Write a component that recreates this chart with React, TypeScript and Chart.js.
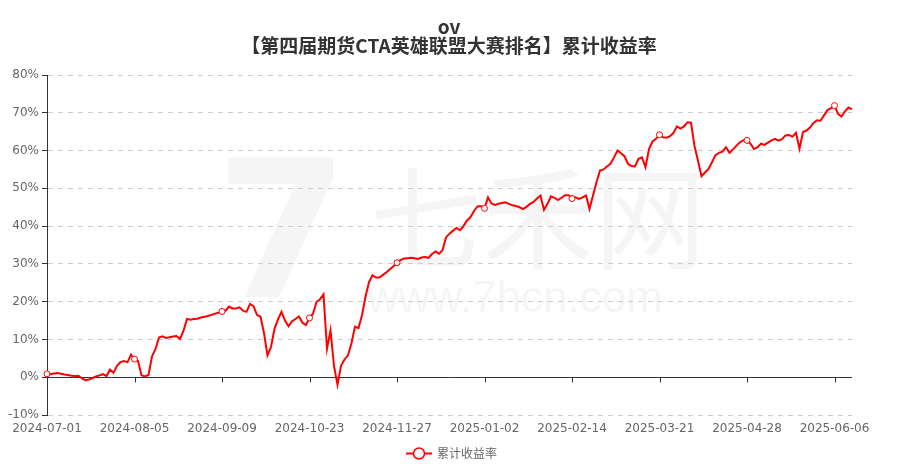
import React, { useEffect, useRef } from 'react';
import { Chart, registerables } from 'chart.js';

Chart.register(...registerables);

const TITLE_LINE1 = 'ov';
const TITLE_LINE2 = '【第四届期货CTA英雄联盟大赛排名】累计收益率';
const SERIES_NAME = '累计收益率';

// x-axis tick labels, one every TICK_STEP trading days
const tickLabels = [
  '2024-07-01', '2024-08-05', '2024-09-09', '2024-10-23', '2024-11-27',
  '2025-01-02', '2025-02-14', '2025-03-21', '2025-04-28', '2025-06-06',
];
const TICK_STEP = 25;

const Y_MIN = -10;
const Y_MAX = 80;
const Y_STEP = 10;

// cumulative return (%) per trading day
const returns = [
  0.9, 0.8, 1.0, 1.1, 0.9, 0.7, 0.6, 0.4, 0.3, 0.4,
  -0.3, -0.8, -0.6, -0.2, 0.2, 0.5, 0.8, 0.3, 2.0, 1.2,
  3.0, 4.0, 4.3, 4.0, 6.0, 4.8, 4.3, 0.5, 0.2, 0.6,
  5.5, 7.5, 10.5, 10.8, 10.4, 10.6, 10.8, 10.9, 10.1, 12.3,
  15.4, 15.2, 15.4, 15.5, 15.8, 16.0, 16.2, 16.5, 16.8, 17.1,
  17.4, 17.6, 18.7, 18.2, 18.2, 18.5, 17.6, 17.3, 19.4, 18.8,
  16.5, 16.0, 11.7, 5.8, 8.0, 12.8, 15.3, 17.3, 15.0, 13.5,
  14.8, 15.4, 16.1, 14.4, 13.8, 15.7, 16.8, 19.9, 20.6, 21.9,
  7.5, 12.4, 3.0, -2.0, 3.0, 4.7, 5.8, 9.0, 13.4, 13.0,
  16.4, 21.3, 25.2, 27.0, 26.4, 26.4, 27.1, 27.8, 28.6, 29.4,
  30.3, 31.0, 31.4, 31.5, 31.6, 31.5, 31.3, 31.7, 31.8, 31.6,
  32.6, 33.3, 32.7, 33.6, 37.0, 38.0, 38.8, 39.5, 38.9, 40.0,
  41.5, 42.4, 44.0, 45.2, 45.3, 44.7, 47.6, 46.0, 45.6, 45.9,
  46.1, 46.3, 45.9, 45.5, 45.3, 45.0, 44.5, 45.1, 45.9, 46.4,
  47.3, 48.1, 44.3, 45.9, 47.9, 47.5, 46.9, 47.5, 48.2, 48.2,
  47.3, 47.6, 47.2, 47.6, 48.1, 44.5, 48.1, 51.6, 54.7, 55.0,
  55.8, 56.5, 58.2, 60.0, 59.3, 58.5, 56.5, 55.9, 55.8, 57.8,
  58.2, 55.6, 60.4, 62.4, 63.1, 64.2, 63.5, 63.4, 63.8, 64.7,
  66.4, 65.8, 66.4, 67.5, 67.4, 61.2, 57.3, 53.2, 54.2, 55.1,
  56.9, 58.8, 59.4, 59.7, 60.9, 59.4, 60.3, 61.3, 62.2, 62.7,
  62.7, 61.8, 60.4, 60.9, 61.8, 61.5, 62.1, 62.7, 63.1, 62.6,
  63.0, 64.0, 64.1, 63.7, 64.7, 60.5, 64.9, 65.3, 66.1, 67.3,
  68.0, 67.9, 69.3, 70.7, 71.2, 71.9, 69.7, 69.0, 70.4, 71.4,
  70.9,
];

const categories = returns.map((_, i) =>
  i % TICK_STEP === 0 ? tickLabels[i / TICK_STEP] ?? '' : ''
);

const LINE_COLOR = '#ff0000';
const AXIS_COLOR = '#333333';
const GRID_COLOR = '#cccccc';
const LABEL_COLOR = '#666666';
const CJK_FONT = '"Noto Sans CJK SC", "DejaVu Sans", sans-serif';

const W = 898;
const H = 471;

const decorPlugin = {
  id: 'decor',
  beforeDraw(chart: any) {
    const { ctx } = chart;
    ctx.save();
    ctx.fillStyle = '#ffffff';
    ctx.fillRect(0, 0, chart.width, chart.height);
    // faint watermark
    ctx.fillStyle = 'rgba(0,0,0,0.04)';
    ctx.textAlign = 'center';
    ctx.textBaseline = 'middle';
    ctx.font = `bold 190px "DejaVu Sans", sans-serif`;
    ctx.fillText('7', 282, 248);
    ctx.font = `112px ${CJK_FONT}`;
    ctx.fillText('七禾网', 538, 218);
    ctx.font = `44px "Liberation Sans", sans-serif`;
    ctx.fillText('www.7hcn.com', 515, 300);
    ctx.restore();
  },
  beforeDatasetsDraw(chart: any) {
    const { ctx, chartArea, scales } = chart;
    const x = scales.x;
    const y = scales.y;
    const y0 = Math.round(y.getPixelForValue(0)) + 0.5;
    ctx.save();
    ctx.strokeStyle = AXIS_COLOR;
    ctx.lineWidth = 1;
    ctx.beginPath();
    ctx.moveTo(chartArea.left, y0);
    ctx.lineTo(chartArea.right, y0);
    x.ticks.forEach((_: any, i: number) => {
      if (i === 0) return;
      const px = Math.round(x.getPixelForTick(i)) + 0.5;
      ctx.moveTo(px, y0);
      ctx.lineTo(px, y0 + 5);
    });
    ctx.stroke();
    ctx.restore();
  },
  afterDraw(chart: any) {
    const { ctx } = chart;
    ctx.save();
    // title
    ctx.fillStyle = '#333333';
    ctx.textAlign = 'center';
    ctx.textBaseline = 'middle';
    ctx.font = `bold 19px ${CJK_FONT}`;
    ctx.fillText(TITLE_LINE1, W / 2, 27);
    ctx.fillText(TITLE_LINE2, W / 2, 46);
    // legend
    const ly = 453.5;
    ctx.strokeStyle = LINE_COLOR;
    ctx.lineWidth = 2;
    ctx.beginPath();
    ctx.moveTo(406, ly);
    ctx.lineTo(432, ly);
    ctx.stroke();
    ctx.beginPath();
    ctx.arc(419, ly, 5.5, 0, Math.PI * 2);
    ctx.fillStyle = '#ffffff';
    ctx.fill();
    ctx.lineWidth = 1.5;
    ctx.stroke();
    ctx.fillStyle = LABEL_COLOR;
    ctx.textAlign = 'left';
    ctx.font = `12px ${CJK_FONT}`;
    ctx.fillText(SERIES_NAME, 437, ly);
    ctx.restore();
  },
};

export default function App() {
  const canvasRef = useRef<HTMLCanvasElement | null>(null);

  useEffect(() => {
    const canvas = canvasRef.current;
    if (!canvas) return;
    const chart = new Chart(canvas, {
      type: 'line',
      data: {
        labels: categories,
        datasets: [
          {
            label: SERIES_NAME,
            data: returns,
            borderColor: LINE_COLOR,
            backgroundColor: LINE_COLOR,
            borderWidth: 2,
            tension: 0,
            pointRadius: (c: any) => (c.dataIndex % TICK_STEP === 0 ? 3 : 0),
            pointBackgroundColor: '#ffffff',
            pointBorderColor: LINE_COLOR,
            pointBorderWidth: 1,
            pointHoverRadius: 0,
          },
        ],
      },
      options: {
        responsive: false,
        animation: false,
        events: [],
        layout: { padding: { top: 75, right: 46, bottom: 0, left: 0 } },
        plugins: {
          legend: { display: false },
          title: { display: false },
          tooltip: { enabled: false },
        },
        scales: {
          x: {
            type: 'category',
            offset: false,
            grid: { display: false, drawTicks: false },
            border: { display: false },
            afterBuildTicks: (axis: any) => {
              axis.ticks = axis.ticks.filter((t: any) => t.value % TICK_STEP === 0);
            },
            afterFit: (axis: any) => {
              axis.height = 56;
            },
            ticks: {
              autoSkip: false,
              maxRotation: 0,
              minRotation: 0,
              padding: 7,
              color: LABEL_COLOR,
              font: { size: 12, family: '"DejaVu Sans", sans-serif' },
            },
          },
          y: {
            min: Y_MIN,
            max: Y_MAX,
            afterFit: (axis: any) => {
              axis.width = 47;
            },
            grid: {
              color: (c: any) => (c.tick && c.tick.value === 0 ? 'rgba(0,0,0,0)' : GRID_COLOR),
              drawTicks: true,
              tickLength: 5,
              tickColor: AXIS_COLOR,
              lineWidth: 1,
            },
            border: { display: true, color: AXIS_COLOR, width: 1, dash: [5, 5] },
            ticks: {
              stepSize: Y_STEP,
              padding: 3,
              color: LABEL_COLOR,
              font: { size: 12, family: '"DejaVu Sans", sans-serif' },
              callback: (v: any) => `${v}%`,
            },
          },
        },
      },
      plugins: [decorPlugin],
    });
    return () => chart.destroy();
  }, []);

  return (
    <div style={{ position: 'fixed', left: 0, top: 0, width: W, height: H, background: '#fff' }}>
      <canvas ref={canvasRef} width={W} height={H} style={{ width: W, height: H, display: 'block' }} />
    </div>
  );
}
